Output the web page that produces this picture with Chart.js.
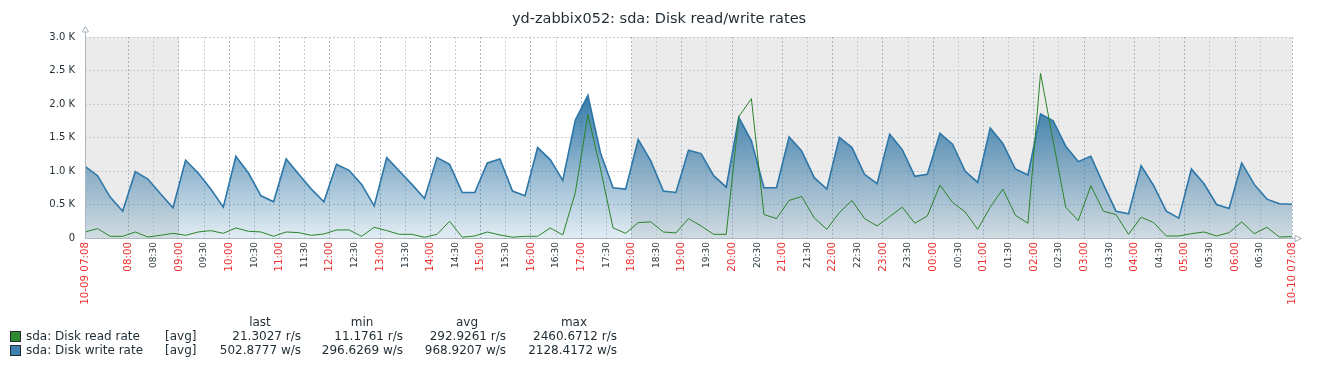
<!DOCTYPE html>
<html>
<head>
<meta charset="utf-8">
<script src="https://cdn.jsdelivr.net/npm/chart.js@4.4.1/dist/chart.umd.min.js"></script>
<style>
  html, body { margin: 0; padding: 0; background: #fff; }
  #wrap { width: 1322px; height: 369px; }
</style>
</head>
<body>
<div id="wrap"><canvas id="myChart" width="1322" height="369"></canvas></div>
<script>
// Chart data (15 min samples from 10-09 07:08)
const chartTitle = 'yd-zabbix052: sda: Disk read/write rates';
const startMinuteOfDay = 7 * 60 + 8;
const sampleStep = 15;
const edgeLabels = ['10-09 07:08', '10-10 07:08'];
const yTicks = [0, 500, 1000, 1500, 2000, 2500, 3000];
const workHours = [9 * 60, 18 * 60];

const readRate = [
    90, 140, 25, 25, 90, 15, 40, 70, 40, 90, 110, 70,
    150, 100, 90, 25, 90, 80, 40, 60, 120, 120, 25, 160,
    110, 55, 55, 11, 55, 250, 12, 30, 90, 45, 12, 25,
    25, 150, 45, 680, 1840, 1030, 150, 70, 230, 240, 90, 75,
    290, 180, 55, 55, 1810, 2080, 350, 290, 560, 620, 300, 130,
    380, 560, 290, 180, 320, 460, 220, 330, 790, 530, 390, 130,
    460, 730, 340, 220, 2460, 1450, 460, 260, 780, 400, 350, 55,
    310, 230, 30, 30, 65, 90, 30, 80, 240, 65, 160, 15,
    21
];

const writeRate = [
    1070, 930, 610, 400, 990, 880, 660, 450, 1160, 970, 730, 460,
    1220, 970, 630, 540, 1180, 950, 730, 540, 1100, 1010, 800, 480,
    1200, 1000, 800, 590, 1200, 1100, 680, 680, 1120, 1180, 700, 630,
    1350, 1170, 860, 1760, 2130, 1270, 750, 730, 1470, 1150, 700, 680,
    1310, 1260, 930, 760, 1800, 1450, 750, 750, 1510, 1300, 900, 730,
    1500, 1350, 950, 810, 1550, 1320, 920, 950, 1560, 1400, 1000, 830,
    1640, 1410, 1030, 940, 1850, 1750, 1370, 1140, 1220, 800, 400, 360,
    1080, 780, 400, 297, 1030, 810, 500, 440, 1120, 800, 580, 510,
    503
];

const seriesNames = ['sda: Disk read rate', 'sda: Disk write rate'];
const statHeaders = ['last', 'min', 'avg', 'max'];
const statRead = ['21.3027 r/s', '11.1761 r/s', '292.9261 r/s', '2460.6712 r/s'];
const statWrite = ['502.8777 w/s', '296.6269 w/s', '968.9207 w/s', '2128.4172 w/s'];

const totalMinutes = (readRate.length - 1) * sampleStep;
const textColor = '#1f2c33';
const redColor = '#ee2f2f';

function pad2(n) {
    return String(n).padStart(2, '0');
}

function clockOf(offset) {
    const m = (startMinuteOfDay + offset) % 1440;
    return { h: Math.floor(m / 60), m: m % 60 };
}

function isRedTick(v) {
    return v === 0 || v === totalMinutes || clockOf(v).m === 0;
}

function isRedCtx(c) {
    return !c.tick || isRedTick(c.tick.value);
}

function tickLabel(v) {
    if (v === 0) return edgeLabels[0];
    if (v === totalMinutes) return edgeLabels[1];
    const c = clockOf(v);
    return pad2(c.h) + ':' + pad2(c.m);
}

// grey background outside working hours
const backgroundBands = {
    id: 'backgroundBands',
    beforeDraw(chart) {
        const { ctx, chartArea: a, scales: { x } } = chart;
        ctx.save();
        ctx.fillStyle = '#fff';
        ctx.fillRect(0, 0, chart.width, chart.height);
        ctx.fillStyle = '#ebebeb';
        const ws = x.getPixelForValue(workHours[0] - startMinuteOfDay);
        const we = x.getPixelForValue(workHours[1] - startMinuteOfDay);
        ctx.fillRect(a.left, a.top, ws - a.left, a.bottom - a.top);
        ctx.fillRect(we, a.top, a.right - we, a.bottom - a.top);
        ctx.restore();
    }
};

// title, axes with arrows, legend table
const decorations = {
    id: 'decorations',
    afterDraw(chart) {
        const { ctx, chartArea: a } = chart;
        ctx.save();

        ctx.fillStyle = textColor;
        ctx.font = '14.5px "DejaVu Sans"';
        ctx.textAlign = 'center';
        ctx.textBaseline = 'middle';
        ctx.fillText(chartTitle, 659, 19);

        ctx.strokeStyle = '#a9b5bf';
        ctx.lineWidth = 1;
        ctx.beginPath();
        ctx.moveTo(a.left + 0.5, a.top - 5);
        ctx.lineTo(a.left + 0.5, a.bottom + 0.5);
        ctx.lineTo(a.right + 3, a.bottom + 0.5);
        ctx.stroke();
        ctx.beginPath();
        ctx.moveTo(a.left - 2.5, a.top - 5);
        ctx.lineTo(a.left + 3.5, a.top - 5);
        ctx.lineTo(a.left + 0.5, a.top - 10.5);
        ctx.closePath();
        ctx.stroke();
        ctx.beginPath();
        ctx.moveTo(a.right + 3, a.bottom - 2.5);
        ctx.lineTo(a.right + 3, a.bottom + 3.5);
        ctx.lineTo(a.right + 9.5, a.bottom + 0.5);
        ctx.closePath();
        ctx.stroke();

        ctx.font = '12px "DejaVu Sans"';
        ctx.fillStyle = textColor;
        const headerX = [260, 362, 467, 574];
        statHeaders.forEach((h, i) => ctx.fillText(h, headerX[i], 323));

        const rows = [
            { name: seriesNames[0], stats: statRead, color: '#2f8a2f', y: 337 },
            { name: seriesNames[1], stats: statWrite, color: '#3f7fad', y: 351 }
        ];
        const valueRight = [301, 403, 506, 617];
        rows.forEach(r => {
            ctx.fillStyle = r.color;
            ctx.fillRect(10, r.y - 6, 11, 11);
            ctx.strokeStyle = textColor;
            ctx.strokeRect(10.5, r.y - 5.5, 10, 10);
            ctx.fillStyle = textColor;
            ctx.textAlign = 'left';
            ctx.fillText(r.name, 26, r.y);
            ctx.fillText('[avg]', 165, r.y);
            ctx.textAlign = 'right';
            r.stats.forEach((s, i) => ctx.fillText(s, valueRight[i], r.y));
        });
        ctx.restore();
    }
};

const ctx = document.getElementById('myChart').getContext('2d');

const chartData = {
    datasets: [{
        label: seriesNames[0],
        data: readRate.map((v, i) => ({ x: i * sampleStep, y: v })),
        borderColor: '#2a842a',
        borderWidth: 1,
        pointRadius: 0,
        fill: false,
        tension: 0
    }, {
        label: seriesNames[1],
        data: writeRate.map((v, i) => ({ x: i * sampleStep, y: v })),
        borderColor: '#2c76a8',
        borderWidth: 1.6,
        pointRadius: 0,
        tension: 0,
        fill: 'origin',
        backgroundColor: context => {
            const chart = context.chart;
            const area = chart.chartArea;
            if (!area) return 'rgba(38,112,162,0.5)';
            const top = chart.scales.y.getPixelForValue(2200);
            const g = chart.ctx.createLinearGradient(0, top, 0, area.bottom);
            g.addColorStop(0, 'rgba(38,112,162,0.95)');
            g.addColorStop(1, 'rgba(38,112,162,0.13)');
            return g;
        }
    }]
};

const config = {
    type: 'line',
    data: chartData,
    options: {
        responsive: false,
        animation: false,
        layout: { padding: { top: 37, right: 30, left: 0, bottom: 0 } },
        plugins: {
            legend: { display: false },
            title: { display: false },
            tooltip: { enabled: false }
        },
        scales: {
            x: {
                type: 'linear',
                min: 0,
                max: totalMinutes,
                z: 1,
                afterBuildTicks: axis => {
                    const ticks = [{ value: 0 }];
                    const first = 30 - (startMinuteOfDay % 30);
                    for (let m = first; m < totalMinutes; m += 30) {
                        if (m > 25 && m < totalMinutes - 25) ticks.push({ value: m });
                    }
                    ticks.push({ value: totalMinutes });
                    axis.ticks = ticks;
                },
                afterFit: axis => { axis.height = 131; },
                border: { display: false, dash: [2, 2] },
                grid: {
                    drawTicks: false,
                    lineWidth: 1,
                    color: c => isRedCtx(c) ? '#aab6c0' : '#c8d0d6'
                },
                ticks: {
                    autoSkip: false,
                    minRotation: 90,
                    maxRotation: 90,
                    padding: 4,
                    color: c => isRedCtx(c) ? redColor : textColor,
                    font: c => ({
                        family: '"DejaVu Sans"',
                        size: isRedCtx(c) ? 10.3 : 9
                    }),
                    callback: value => tickLabel(value)
                }
            },
            y: {
                min: 0,
                max: 3000,
                z: 1,
                afterBuildTicks: axis => { axis.ticks = yTicks.map(v => ({ value: v })); },
                afterFit: axis => { axis.width = 85; },
                border: { display: false, dash: [2, 2] },
                grid: {
                    drawTicks: false,
                    color: '#c3ccd3'
                },
                ticks: {
                    padding: 10,
                    color: textColor,
                    font: { family: '"DejaVu Sans"', size: 10 },
                    callback: value => value === 0 ? '0' : (value / 1000).toFixed(1) + ' K'
                }
            }
        }
    },
    plugins: [backgroundBands, decorations]
};

window.myChart = new Chart(ctx, config);
</script>
</body>
</html>
